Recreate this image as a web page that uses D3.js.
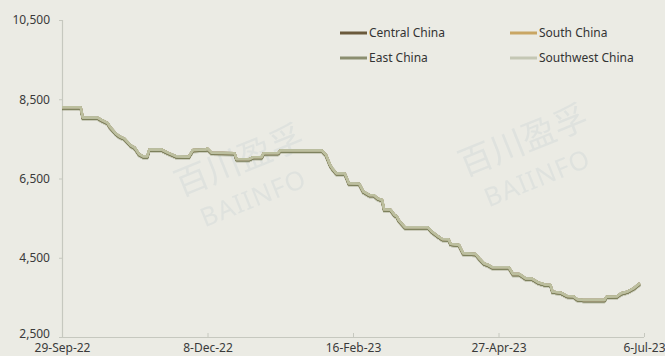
<!DOCTYPE html>
<html><head><meta charset="utf-8">
<script src="https://cdn.jsdelivr.net/npm/d3@7"></script>
<style>
html,body{margin:0;padding:0;background:#ebebe4;}
svg{display:block;font-family:"Noto Sans",sans-serif;}
</style></head>
<body>
<svg id="chart" width="665" height="356"></svg>
<script>
const dates = ["2022-09-29","2022-10-08","2022-10-09","2022-10-16","2022-10-18","2022-10-21","2022-10-22","2022-10-25","2022-10-27","2022-10-29",
"2022-11-01","2022-11-03","2022-11-05","2022-11-07","2022-11-09","2022-11-10","2022-11-16","2022-11-19","2022-11-23","2022-11-29",
"2022-12-01","2022-12-07","2022-12-08","2022-12-10","2022-12-21","2022-12-22","2022-12-28","2022-12-30","2023-01-03","2023-01-04",
"2023-01-11","2023-01-12","2023-02-01","2023-02-03","2023-02-05","2023-02-06","2023-02-08","2023-02-12","2023-02-13","2023-02-14",
"2023-02-19","2023-02-21","2023-02-24","2023-02-26","2023-02-28","2023-03-02","2023-03-03","2023-03-06","2023-03-08","2023-03-09",
"2023-03-10","2023-03-13","2023-03-24","2023-03-26","2023-03-29","2023-03-31","2023-04-03","2023-04-04","2023-04-08","2023-04-10",
"2023-04-16","2023-04-18","2023-04-20","2023-04-22","2023-04-24","2023-05-02","2023-05-04","2023-05-07","2023-05-10","2023-05-13",
"2023-05-16","2023-05-20","2023-05-22","2023-05-23","2023-05-27","2023-05-30","2023-06-02","2023-06-04","2023-06-07","2023-06-17",
"2023-06-18","2023-06-23","2023-06-25","2023-06-28","2023-07-01","2023-07-04"];

const centralChina = [8300,8300,8040,8040,7980,7900,7810,7630,7555,7510,
7340,7280,7120,7060,7060,7230,7230,7150,7060,7050,
7220,7230,7255,7150,7140,6990,6990,7040,7040,7140,
7140,7210,7210,7100,6840,6760,6630,6630,6510,6380,
6370,6170,6080,6080,5990,5960,5720,5715,5580,5550,
5450,5270,5270,5160,5040,4970,4965,4850,4825,4615,
4595,4470,4360,4320,4260,4260,4090,4090,3980,3975,
3880,3815,3815,3645,3620,3535,3530,3450,3435,3435,
3520,3525,3605,3645,3730,3855];
const southChina = [8300,8300,8040,8040,7980,7900,7810,7630,7555,7510,
7340,7280,7120,7060,7060,7230,7230,7150,7060,7050,
7220,7230,7255,7150,7140,6990,6990,7040,7040,7140,
7140,7210,7210,7100,6840,6760,6630,6630,6510,6380,
6370,6170,6080,6080,5990,5960,5720,5715,5580,5550,
5450,5270,5270,5160,5040,4970,4965,4850,4825,4615,
4595,4470,4360,4320,4260,4260,4090,4090,3980,3975,
3880,3815,3815,3645,3620,3535,3530,3450,3435,3435,
3520,3525,3605,3645,3730,3855];
const eastChina = [8300,8300,8040,8040,7980,7900,7810,7630,7555,7510,
7340,7280,7120,7060,7060,7230,7230,7150,7060,7050,
7220,7230,7255,7150,7140,6990,6990,7040,7040,7140,
7140,7210,7210,7100,6840,6760,6630,6630,6510,6380,
6370,6170,6080,6080,5990,5960,5720,5715,5580,5550,
5450,5270,5270,5160,5040,4970,4965,4850,4825,4615,
4595,4470,4360,4320,4260,4260,4090,4090,3980,3975,
3880,3815,3815,3645,3620,3535,3530,3450,3435,3435,
3520,3525,3605,3645,3730,3855];
const southwestChina = [8300,8300,8040,8040,7980,7900,7810,7630,7555,7510,
7340,7280,7120,7060,7060,7230,7230,7150,7060,7050,
7220,7230,7255,7150,7140,6990,6990,7040,7040,7140,
7140,7210,7210,7100,6840,6760,6630,6630,6510,6380,
6370,6170,6080,6080,5990,5960,5720,5715,5580,5550,
5450,5270,5270,5160,5040,4970,4965,4850,4825,4615,
4595,4470,4360,4320,4260,4260,4090,4090,3980,3975,
3880,3815,3815,3645,3620,3535,3530,3450,3435,3435,
3520,3525,3605,3645,3730,3855];

const seriesNames = ["Central China","South China","East China","Southwest China"];
const seriesColors = ["#6b5a3c","#c9a664","#8b8e70","#c4c7b4"];
const xTickLabels = ["29-Sep-22","8-Dec-22","16-Feb-23","27-Apr-23","6-Jul-23"];
const yTicks = [2500,4500,6500,8500,10500];

const parse = d3.timeParse("%Y-%m-%d");
const parseTick = d3.timeParse("%d-%b-%y");
const fmtTick = d3.timeFormat("%-d-%b-%y");
const xDates = dates.map(parse);
const allSeries = [centralChina, southChina, eastChina, southwestChina];

const svg = d3.select("#chart");
const W = 665, H = 356;
const m = {left:62, right:21, top:20, bottom:19};

const x = d3.scaleTime()
  .domain([parseTick(xTickLabels[0]), parseTick(xTickLabels[xTickLabels.length-1])])
  .range([m.left, W - m.right]);
const y = d3.scaleLinear().domain([2500,10500]).range([H - m.bottom, m.top]);

// filter for shadow
const defs = svg.append("defs");
const f = defs.append("filter").attr("id","sh").attr("x","-5%").attr("y","-10%").attr("width","110%").attr("height","130%");
f.append("feDropShadow").attr("dx",0).attr("dy",1.3).attr("stdDeviation",0.5)
  .attr("flood-color","#767a52").attr("flood-opacity",0.95);

// watermarks
function watermark(cx, cy, cx2, cy2){
  svg.append("text").attr("transform",`translate(${cx},${cy}) rotate(-22)`)
    .attr("text-anchor","middle").attr("dominant-baseline","middle")
    .attr("font-family","'Noto Sans CJK SC',sans-serif").attr("font-size",34)
    .attr("fill","#dde1de").attr("opacity",0.85).text("百川盈孚");
  svg.append("text").attr("transform",`translate(${cx2},${cy2}) rotate(-22)`)
    .attr("text-anchor","middle").attr("dominant-baseline","middle")
    .attr("font-size",26).attr("letter-spacing",1)
    .attr("fill","#dde1de").attr("opacity",0.85).text("BAIINFO");
}
watermark(524,143,538,180);
watermark(240,163,254,200);

// axes
const axisColor = "#c6c8bf";
const yAxis = svg.append("g").attr("transform",`translate(${m.left},0)`)
  .call(d3.axisLeft(y).tickValues(yTicks).tickSize(3).tickPadding(9).tickFormat(d3.format(",")));
const xAxis = svg.append("g").attr("transform",`translate(0,${H-m.bottom})`)
  .call(d3.axisBottom(x).tickValues(xTickLabels.map(parseTick)).tickSize(-4).tickPadding(5).tickFormat(fmtTick));
[yAxis,xAxis].forEach(g=>{
  g.select(".domain").attr("stroke",axisColor).attr("stroke-width",1.2);
  g.selectAll(".tick line").attr("stroke",axisColor);
  g.selectAll(".tick text").attr("fill","#3a3a3a").attr("font-size",12).attr("font-family","'Noto Sans',sans-serif");
});
yAxis.select(".domain").attr("d",`M0.5,${y(2500)}V${y(10500)}`);
yAxis.selectAll(".tick text").filter(d=>d===2500).attr("y",-3);
xAxis.select(".domain").attr("d",`M${m.left},0.5H${W-m.right}`);
xAxis.selectAll(".tick text").attr("y",6).attr("dy","0.71em");

// lines
const line = d3.line().x((d,i)=>x(xDates[i])).y(d=>y(d));
const lg = svg.append("g").attr("filter","url(#sh)");
allSeries.forEach((s,i)=>{
  lg.append("path").datum(s).attr("d",line).attr("fill","none")
    .attr("stroke",seriesColors[i]).attr("stroke-width",2.4).attr("stroke-linejoin","round");
});
lg.append("path").datum(southwestChina).attr("d",line).attr("fill","none")
  .attr("stroke","#bcbf9e").attr("stroke-width",2.2).attr("stroke-linejoin","round");

// legend
const legPos = [[340,33],[510,33],[340,58],[510,58]];
seriesNames.forEach((n,i)=>{
  const [lx,ly] = legPos[i];
  svg.append("line").attr("x1",lx).attr("x2",lx+27).attr("y1",ly).attr("y2",ly)
    .attr("stroke",seriesColors[i]).attr("stroke-width",3);
  svg.append("text").attr("x",lx+29).attr("y",ly).attr("dy","0.35em")
    .attr("font-size",12).attr("fill","#333").text(n);
});
</script>
</body></html>
